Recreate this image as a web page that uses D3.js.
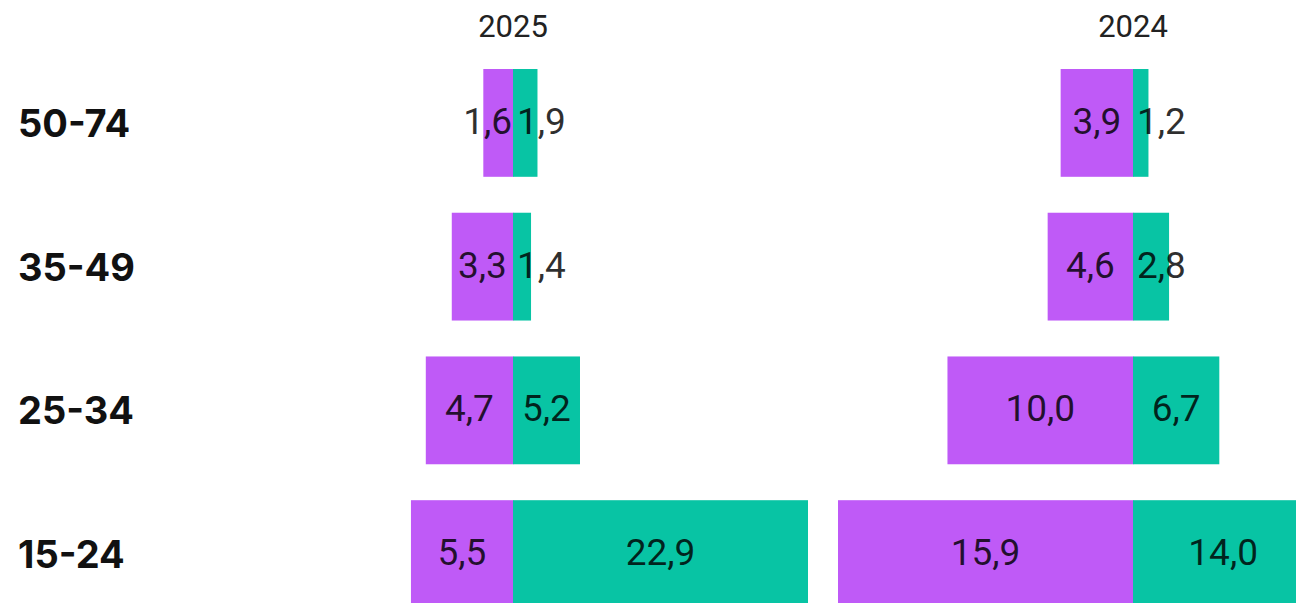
<!DOCTYPE html>
<html>
<head>
<meta charset="utf-8">
<script src="https://cdn.jsdelivr.net/npm/d3@7"></script>
<style>
  html, body { margin: 0; padding: 0; background: #fff; overflow: hidden; }
  svg { display: block; }
</style>
</head>
<body>
<svg id="svg" width="1296" height="603"></svg>
<script>
// values
const ageGroups = ['50-74', '35-49', '25-34', '15-24'];
const years = ['2025', '2024'];
const purple2025 = [1.6, 3.3, 4.7, 5.5];
const teal2025 = [1.9, 1.4, 5.2, 22.9];
const purple2024 = [3.9, 4.6, 10.0, 15.9];
const teal2024 = [1.2, 2.8, 6.7, 14.0];

const purpleByYear = {'2025': purple2025, '2024': purple2024};
const tealByYear = {'2025': teal2025, '2024': teal2024};

const svgWidth = 1296;
const svgHeight = 603;
const purple = '#bf5af7';
const teal = '#08c4a4';
const halfWidth = 295;

let svg = d3.select('#svg');

let locale = d3.formatLocale({decimal: ',', thousands: ' ', grouping: [3], currency: ['', '']});
let fmt = locale.format('.1f');

let yScale = d3.scaleBand()
  .domain(ageGroups)
  .range([69, 608])
  .paddingInner(0.25)
  .paddingOuter(0);

let centerX = d3.scaleOrdinal()
  .domain(years)
  .range([513, 1133]);

let xPurple = d3.scaleLinear()
  .domain([0, d3.max(purple2025.concat(purple2024))])
  .range([0, halfWidth]);
let xTeal = d3.scaleLinear()
  .domain([0, d3.max(teal2025.concat(teal2024))])
  .range([0, halfWidth]);

// row labels
svg.append('g')
  .attr('class', 'row-labels')
  .selectAll('text')
  .data(ageGroups)
  .enter()
  .append('text')
  .attr('x', 18)
  .attr('y', d => yScale(d) + yScale.bandwidth() / 2 + 14)
  .attr('font-family', 'Inter, sans-serif')
  .attr('font-weight', 700)
  .attr('font-size', 38)
  .attr('fill', '#111')
  .text(d => d);

// year headers
svg.append('g')
  .attr('class', 'years')
  .selectAll('text')
  .data(years)
  .enter()
  .append('text')
  .attr('x', d => centerX(d))
  .attr('y', 37)
  .attr('text-anchor', 'middle')
  .attr('font-family', 'Roboto, sans-serif')
  .attr('font-size', 31)
  .attr('fill', '#222')
  .text(d => d);

years.forEach(year => {
  let cx = centerX(year);
  let rows = ageGroups.map((g, i) => ({group: g, left: purpleByYear[year][i], right: tealByYear[year][i]}));
  let g = svg.append('g').attr('class', 'panel-' + year);

  g.selectAll('rect.left')
    .data(rows)
    .enter()
    .append('rect')
    .attr('class', 'left')
    .attr('x', d => cx - xPurple(d.left))
    .attr('y', d => yScale(d.group))
    .attr('width', d => xPurple(d.left) + 0.5)
    .attr('height', yScale.bandwidth())
    .attr('fill', purple);

  g.selectAll('rect.right')
    .data(rows)
    .enter()
    .append('rect')
    .attr('class', 'right')
    .attr('x', cx)
    .attr('y', d => yScale(d.group))
    .attr('width', d => xTeal(d.right))
    .attr('height', yScale.bandwidth())
    .attr('fill', teal);

  // labels centred in the bar, kept off the middle line
  let labelStyle = sel => sel
    .attr('font-family', 'Roboto, sans-serif')
    .attr('font-size', 37)
    .attr('fill', '#000')
    .attr('fill-opacity', 0.82)
    .attr('text-anchor', 'middle')
    .attr('y', d => yScale(d.group) + yScale.bandwidth() / 2 + 11);

  g.selectAll('text.left')
    .data(rows)
    .enter()
    .append('text')
    .attr('class', 'left')
    .call(labelStyle)
    .text(d => fmt(d.left))
    .attr('x', function(d) {
      let w = this.getComputedTextLength();
      let mid = cx - xPurple(d.left) / 2;
      return Math.min(mid, cx - 1 - w / 2);
    });

  g.selectAll('text.right')
    .data(rows)
    .enter()
    .append('text')
    .attr('class', 'right')
    .call(labelStyle)
    .text(d => fmt(d.right))
    .attr('x', function(d) {
      let w = this.getComputedTextLength();
      let mid = cx + xTeal(d.right) / 2;
      mid = Math.max(mid, cx + 4 + w / 2);
      return Math.min(mid, svgWidth - 6 - w / 2);
    });
});
</script>
</body>
</html>
